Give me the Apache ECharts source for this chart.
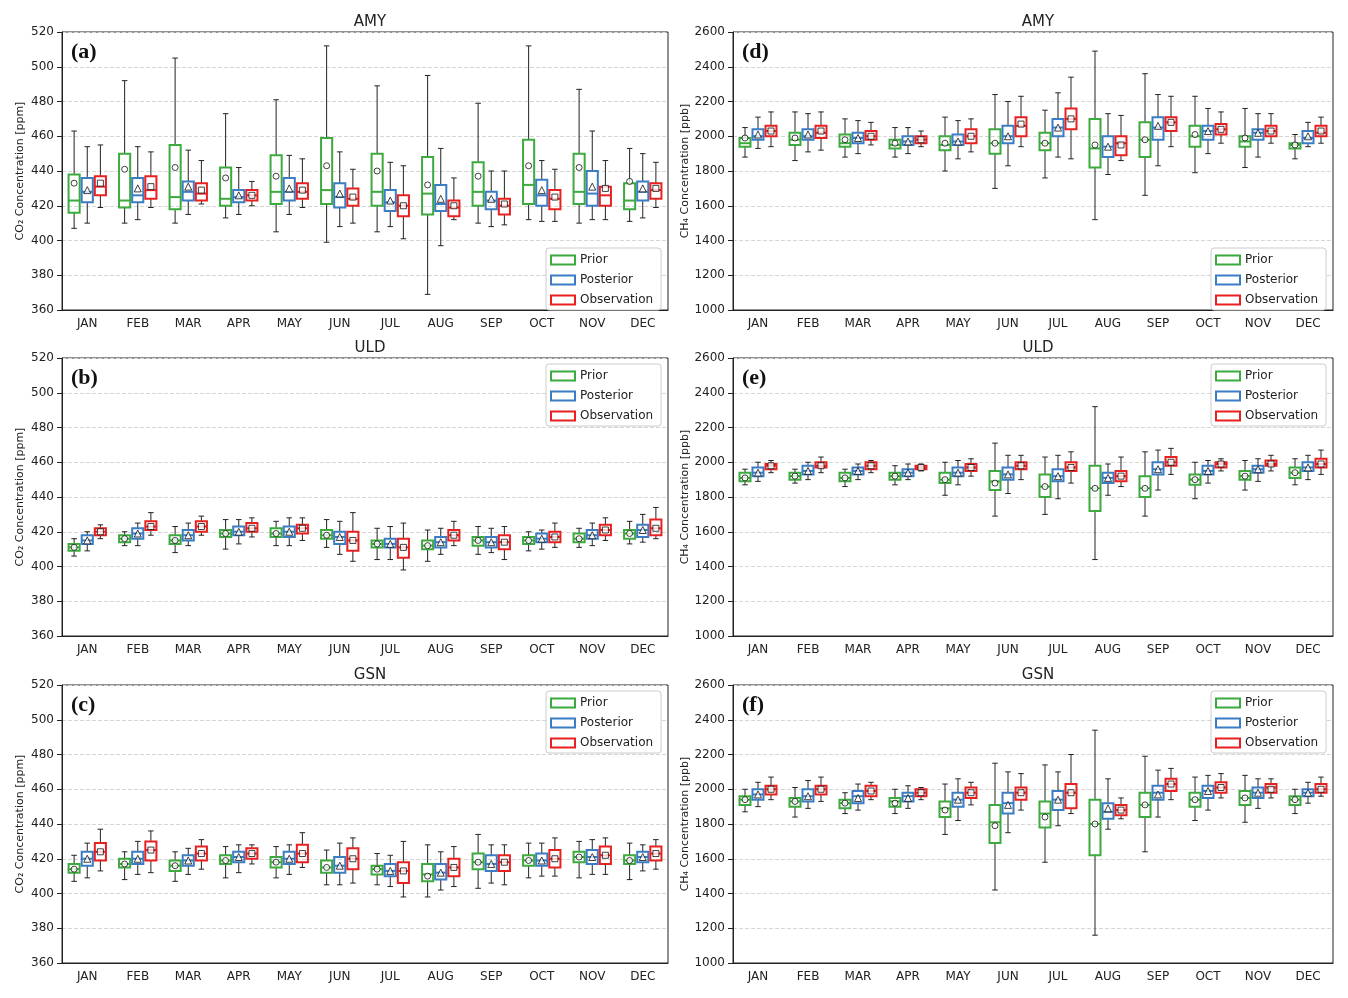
<!DOCTYPE html>
<html><head><meta charset="utf-8">
<script src="https://cdn.jsdelivr.net/npm/echarts@6/dist/echarts.min.js"></script>
<style>html,body{margin:0;padding:0;background:#fff}#c{width:1348px;height:998px}</style>
</head><body><div id="c"></div>
<script>
const months=['JAN','FEB','MAR','APR','MAY','JUN','JUL','AUG','SEP','OCT','NOV','DEC'];
const seriesNames=['Prior','Posterior','Observation'];
const stationNames=['AMY','ULD','GSN'];
const co2Ticks=[360,520,20], ch4Ticks=[1000,2600,200];
// each item: [min, q1, median, q3, max, mean]
const aPrior=[[407,416,423,438,463,433],[410,419,423,450,492,441],[410,418,425,455,505,442],[413,420,424,442,473,436],[405,421,428,449,481,437],[399,421,429,459,512,443],[405,420,428,450,489,440],[369,415,427,448,495,432],[410,420,428,445,479,437],[412,421,432,458,512,443],[410,421,428,450,487,442],[411,418,423,433,453,434]];
const aPost=[[410,422,428,436,454,429],[412,422,426,436,454,430],[415,423,428,434,452,431],[415,422,425,429,442,426],[415,423,428,436,449,430],[408,419,425,433,451,427],[408,417,422,429,445,423],[397,417,421,432,453,424],[408,418,423,428,440,424],[411,420,426,435,446,429],[412,420,427,440,463,431],[413,423,428,434,450,430]];
const aObs=[[419,426,431,437,455,433],[419,424,429,437,451,431],[421,423,427,433,446,429],[420,423,426,429,434,426],[419,424,428,433,447,429],[410,420,424,430,441,425],[401,414,420,426,443,420],[412,414,419,423,436,420],[409,415,420,424,440,421],[411,418,424,429,441,425],[412,420,426,431,446,430],[419,424,429,433,445,430]];
const bPrior=[[406,409,411,413,416,411],[412,414,416,418,420,416],[408,413,415,418,423,415],[410,417,419,421,427,419],[412,417,419,422,426,419],[411,416,418,421,427,418],[404,411,413,415,422,413],[403,410,412,415,421,412],[407,412,415,417,423,415],[409,413,415,417,420,415],[411,414,416,419,422,416],[413,416,419,421,426,419]];
const bPost=[[409,413,415,418,420,415],[412,416,419,422,425,419],[412,415,418,421,425,418],[413,418,420,423,427,420],[412,417,420,423,428,420],[407,413,417,420,426,417],[404,411,413,416,423,413],[407,411,414,417,422,414],[408,411,414,417,422,414],[410,414,416,419,421,416],[412,416,418,421,425,418],[414,417,421,424,430,421]];
const bObs=[[416,418,420,422,424,420],[418,421,423,426,431,423],[418,420,423,426,429,423],[417,420,422,425,428,422],[415,419,422,424,428,422],[403,409,415,420,431,415],[398,405,411,416,425,411],[412,415,418,421,426,418],[404,410,414,418,423,414],[411,414,417,420,425,417],[415,418,421,424,428,421],[416,418,422,427,434,422]];
const cPrior=[[407,412,414,417,422,414],[408,415,417,420,424,417],[407,413,416,419,424,416],[409,417,419,422,427,419],[409,415,418,421,427,418],[405,412,415,419,425,415],[405,411,414,416,423,414],[398,407,411,417,428,410],[403,414,418,423,434,418],[409,416,419,422,429,419],[409,418,421,424,430,421],[408,417,419,422,429,419]];
const cPost=[[409,416,420,424,429,420],[411,417,420,424,430,420],[411,416,419,422,426,419],[412,418,421,424,428,421],[411,417,420,424,428,420],[405,412,416,421,429,416],[404,410,413,417,422,413],[402,408,412,417,424,412],[406,413,417,422,428,417],[410,416,419,423,429,419],[411,417,421,425,431,421],[413,418,421,424,428,421]];
const cObs=[[413,419,424,429,437,424],[412,419,425,430,436,425],[414,419,423,427,431,423],[417,420,423,426,428,423],[415,418,423,428,435,423],[406,414,420,426,432,420],[398,406,413,418,430,413],[404,410,415,420,427,415],[405,413,418,422,428,418],[410,415,420,425,432,420],[411,417,422,427,432,422],[414,419,423,427,431,423]];
const dPrior=[[1880,1940,1960,1990,2050,1990],[1860,1950,1980,2020,2140,1990],[1880,1940,1960,2010,2100,1980],[1880,1930,1950,1980,2050,1960],[1800,1920,1950,2000,2110,1960],[1700,1900,1960,2040,2240,1960],[1760,1920,1960,2020,2150,1960],[1520,1820,1930,2100,2490,1950],[1660,1880,1980,2080,2360,1980],[1790,1940,2000,2060,2230,2010],[1820,1940,1970,2000,2160,1990],[1870,1930,1950,1960,2010,1950]];
const dPost=[[1930,1980,2000,2040,2110,2010],[1910,1980,2000,2040,2130,2010],[1900,1960,1990,2020,2090,1990],[1900,1950,1970,2000,2050,1970],[1870,1950,1970,2010,2090,1970],[1830,1960,2000,2060,2200,2000],[1880,2000,2050,2100,2250,2050],[1780,1880,1940,2000,2130,1940],[1830,1980,2050,2110,2240,2060],[1900,1980,2030,2060,2160,2030],[1880,1980,2020,2040,2130,2020],[1940,1960,1990,2030,2080,2000]];
const dObs=[[1940,2000,2030,2060,2140,2030],[1920,1990,2020,2060,2140,2030],[1950,1980,2000,2030,2080,2000],[1940,1960,1980,2000,2030,1980],[1910,1960,2000,2040,2100,2000],[1940,2000,2060,2110,2230,2070],[1870,2040,2100,2160,2340,2100],[1860,1890,1960,2000,2120,1950],[1940,2030,2080,2110,2230,2080],[1960,2010,2040,2070,2140,2040],[1960,2000,2030,2060,2130,2030],[1960,2000,2020,2060,2110,2030]];
const ePrior=[[1870,1890,1910,1940,1960,1910],[1880,1900,1920,1940,1960,1920],[1860,1890,1910,1940,1960,1910],[1870,1900,1920,1940,1980,1920],[1810,1880,1900,1940,2000,1900],[1690,1840,1890,1950,2110,1880],[1700,1800,1860,1930,2030,1860],[1440,1720,1850,1980,2320,1850],[1690,1800,1850,1920,2060,1850],[1790,1870,1900,1930,2000,1900],[1840,1900,1920,1950,2010,1920],[1870,1910,1940,1970,2020,1940]];
const ePost=[[1890,1920,1940,1970,2000,1940],[1900,1930,1950,1980,2000,1950],[1900,1930,1950,1970,1990,1950],[1900,1920,1940,1960,1990,1940],[1870,1920,1940,1970,2010,1940],[1820,1900,1930,1970,2040,1930],[1790,1890,1920,1960,2040,1920],[1810,1880,1910,1940,1990,1910],[1840,1930,1960,2000,2070,1960],[1880,1930,1950,1980,2010,1950],[1890,1940,1960,1980,2020,1960],[1900,1950,1970,2000,2040,1970]];
const eObs=[[1940,1960,1980,1990,2010,1980],[1940,1970,1980,2000,2030,1980],[1940,1960,1980,2000,2010,1980],[1950,1960,1970,1980,1990,1970],[1920,1950,1970,1990,2020,1970],[1900,1960,1980,2000,2040,1980],[1880,1950,1970,2000,2060,1970],[1860,1890,1920,1950,2030,1920],[1930,1980,2000,2030,2080,2000],[1950,1970,1990,2000,2020,1990],[1950,1980,1990,2010,2040,1990],[1930,1970,1990,2020,2070,1990]];
const fPrior=[[1870,1910,1940,1960,2000,1940],[1840,1900,1930,1950,2010,1930],[1860,1890,1920,1940,1980,1920],[1860,1900,1930,1950,2000,1920],[1740,1840,1890,1930,2030,1880],[1420,1690,1810,1910,2150,1790],[1580,1780,1860,1930,2140,1840],[1160,1620,1800,1940,2340,1800],[1640,1840,1910,1980,2190,1910],[1820,1900,1940,1980,2070,1940],[1810,1910,1950,1990,2080,1950],[1860,1910,1940,1960,2000,1940]];
const fPost=[[1900,1940,1970,2000,2040,1970],[1890,1930,1960,2000,2050,1960],[1880,1920,1960,1990,2030,1950],[1890,1930,1960,1980,2020,1950],[1820,1900,1940,1980,2060,1940],[1750,1860,1920,1980,2100,1910],[1790,1880,1940,1990,2100,1940],[1770,1830,1870,1920,2060,1890],[1840,1940,1980,2020,2110,1970],[1880,1950,1990,2020,2080,1990],[1890,1950,1980,2010,2060,1980],[1920,1960,1980,2000,2040,1980]];
const fObs=[[1940,1970,2000,2020,2070,2000],[1930,1970,2000,2020,2070,2000],[1940,1960,1990,2020,2040,1990],[1940,1960,1980,2000,2010,1980],[1910,1950,1980,2010,2040,1980],[1880,1940,1980,2010,2090,1980],[1860,1890,1980,2030,2200,1980],[1830,1850,1880,1910,1950,1880],[1940,1990,2030,2060,2120,2030],[1950,1980,2010,2040,2090,2010],[1950,1980,2010,2030,2060,2000],[1960,1980,2000,2030,2070,2000]];

const colors=['#3daa3d','#3b7dc4','#e8201f'];
const meanSymbols=['circle','triangle','rect'];
const offsets=[-0.26,0,0.26];
const panels=[
 {d:[aPrior,aPost,aObs],t:co2Ticks,st:0,lab:'(a)',col:0,row:0,legend:'bottom'},
 {d:[bPrior,bPost,bObs],t:co2Ticks,st:1,lab:'(b)',col:0,row:1,legend:'top'},
 {d:[cPrior,cPost,cObs],t:co2Ticks,st:2,lab:'(c)',col:0,row:2,legend:'top'},
 {d:[dPrior,dPost,dObs],t:ch4Ticks,st:0,lab:'(d)',col:1,row:0,legend:'bottom'},
 {d:[ePrior,ePost,eObs],t:ch4Ticks,st:1,lab:'(e)',col:1,row:1,legend:'top'},
 {d:[fPrior,fPost,fObs],t:ch4Ticks,st:2,lab:'(f)',col:1,row:2,legend:'top'}];
const gridL=[62,733], gridW=[606,600], gridT=[32,358,685], gridH=278;
const font='DejaVu Sans';
const opt={animation:false,backgroundColor:'#fff',grid:[],xAxis:[],yAxis:[],series:[],title:[],legend:[]};

function renderBox(color){
  return function(params,api){
    const x=api.value(0);
    const pMin=api.coord([x,api.value(1)]),pQ1=api.coord([x,api.value(2)]),pMed=api.coord([x,api.value(3)]),pQ3=api.coord([x,api.value(4)]),pMax=api.coord([x,api.value(5)]);
    const w=api.size([0.22,0])[0], hw=w/2, cw=w/4, cx=pMed[0];
    const blk={stroke:'#222',lineWidth:1};
    return {type:'group',children:[
      {type:'line',shape:{x1:cx,y1:pMin[1],x2:cx,y2:pQ1[1]},style:blk},
      {type:'line',shape:{x1:cx,y1:pQ3[1],x2:cx,y2:pMax[1]},style:blk},
      {type:'line',shape:{x1:cx-cw,y1:pMin[1],x2:cx+cw,y2:pMin[1]},style:blk},
      {type:'line',shape:{x1:cx-cw,y1:pMax[1],x2:cx+cw,y2:pMax[1]},style:blk},
      {type:'rect',shape:{x:cx-hw,y:pQ3[1],width:w,height:pQ1[1]-pQ3[1]},style:{fill:'rgba(0,0,0,0)',stroke:color,lineWidth:2}},
      {type:'line',shape:{x1:cx-hw,y1:pMed[1],x2:cx+hw,y2:pMed[1]},style:{stroke:color,lineWidth:2}}
    ]};
  };
}

panels.forEach((p,gi)=>{
  const L=gridL[p.col],W=gridW[p.col],T=gridT[p.row];
  opt.grid.push({left:L,top:T,width:W,height:gridH,show:true,borderColor:'#222',borderWidth:1,backgroundColor:'transparent'});
  opt.xAxis.push({type:'value',gridIndex:gi,min:-0.5,max:11.5,show:false,position:'top',axisLine:{onZero:false}});
  opt.xAxis.push({type:'category',gridIndex:gi,data:months,boundaryGap:true,position:'bottom',
    axisLine:{onZero:false,lineStyle:{color:'#222'}},axisTick:{alignWithLabel:true,lineStyle:{color:'#222'}},
    axisLabel:{color:'#222',fontFamily:font,fontSize:12,margin:8},splitLine:{show:false}});
  const isCO2=p.t===co2Ticks;
  opt.yAxis.push({type:'value',gridIndex:gi,min:p.t[0],max:p.t[1],interval:p.t[2],position:'left',
    name:isCO2?'CO₂ Concentration [ppm]':'CH₄ Concentration [ppb]',nameLocation:'middle',nameGap:isCO2?36:42,
    nameTextStyle:{fontFamily:font,fontSize:11,color:'#222'},
    axisLine:{show:true,onZero:false,lineStyle:{color:'#222'}},axisTick:{show:true,lineStyle:{color:'#222'}},
    axisLabel:{color:'#222',fontFamily:font,fontSize:12,formatter:v=>String(v)},
    splitLine:{show:true,lineStyle:{type:'dashed',color:'#d5d5d5'}}});
  opt.title.push({text:stationNames[p.st],left:L+W/2,top:T-22,textAlign:'center',textStyle:{fontFamily:font,fontSize:15,fontWeight:'normal',color:'#222'}});
  opt.title.push({text:p.lab,left:L+4,top:T+4,textStyle:{fontFamily:'Liberation Serif',fontSize:22,fontWeight:'bold',color:'#111'}});
  p.d.forEach((arr,si)=>{
    opt.series.push({type:'custom',name:seriesNames[si],xAxisIndex:2*gi,yAxisIndex:gi,
      itemStyle:{color:colors[si]},renderItem:renderBox(colors[si]),
      encode:{x:0,y:[1,2,3,4,5]},
      data:arr.map((v,mi)=>[mi+offsets[si],v[0],v[1],v[2],v[3],v[4]])});
    opt.series.push({type:'scatter',xAxisIndex:2*gi,yAxisIndex:gi,symbol:meanSymbols[si],symbolSize:si===1?7:6,z:5,
      itemStyle:{color:'#fff',borderColor:'#111',borderWidth:1},
      data:arr.map((v,mi)=>[mi+offsets[si],v[5]])});
  });
  const lg={orient:'vertical',left:L+W-122,itemWidth:24,itemHeight:9,itemGap:8,
    backgroundColor:'#fff',borderColor:'#ccc',borderWidth:1,borderRadius:3,padding:[6,8,4,4],
    textStyle:{fontFamily:font,fontSize:12,color:'#222'},selectedMode:false,
    data:seriesNames.map((n,si)=>({name:n,icon:'rect',itemStyle:{color:'#fff',borderColor:colors[si],borderWidth:2}}))};
  if(p.legend==='bottom') lg.top=T+gridH-62; else lg.top=T+6;
  opt.legend.push(lg);
});
echarts.init(document.getElementById('c')).setOption(opt);
</script></body></html>
